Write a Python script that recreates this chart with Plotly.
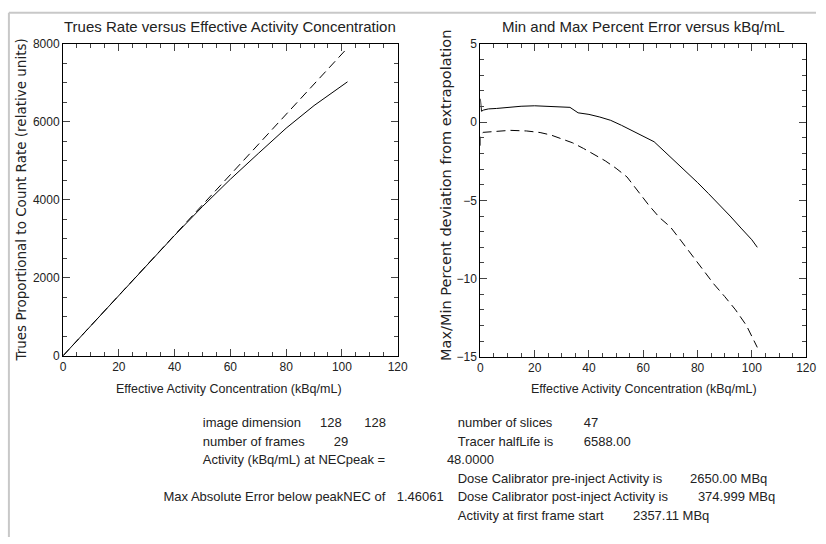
import plotly.graph_objects as go

W, H = 826, 544

# ---- data: left panel (Trues rate vs activity concentration)
act_meas = [0, 10, 20, 30, 40, 50, 60, 70, 80, 90, 102]
trues_meas = [0, 775, 1550, 2320, 3090, 3830, 4530, 5190, 5840, 6420, 7030]
act_extrap = [0, 102]
trues_extrap = [0, 7900]

# ---- data: right panel (max / min percent error)
max_x = [0, 0.4, 1.2, 3, 6, 10, 15, 20, 25, 30, 33, 36, 40, 44, 48, 52, 56, 60,
         64, 68, 72, 76, 80, 84, 88, 92, 96, 100, 102]
max_y = [1.5, 0.7, 0.78, 0.85, 0.88, 0.95, 1.02, 1.05, 1.0, 0.97, 0.95, 0.6, 0.5,
         0.33, 0.12, -0.2, -0.55, -0.85, -1.25, -1.9, -2.54, -3.17, -3.86, -4.56,
         -5.26, -6.0, -6.77, -7.52, -8.0]
min_x = [0, 0, 1, 3, 7, 11, 17, 22, 26, 30, 34, 38, 42, 46, 50, 54, 58, 62, 66,
         70, 74, 78, 82, 86, 90, 94, 98, 102]
min_y = [-1.5, -0.8, -0.65, -0.62, -0.56, -0.52, -0.56, -0.66, -0.82, -1.05,
         -1.32, -1.68, -2.05, -2.47, -2.95, -3.5, -4.4, -5.3, -6.1, -6.7, -7.6,
         -8.5, -9.4, -10.35, -11.15, -12.0, -13.0, -14.4]

# ---- info text block below the plots (text, x px, y px)
info_text = ["image dimension", "128", "128", "number of slices", "47",
             "number of frames", "29", "Tracer halfLife is", "6588.00",
             "Activity (kBq/mL) at NECpeak =", "48.0000",
             "Dose Calibrator pre-inject Activity is", "2650.00 MBq",
             "Max Absolute Error below peakNEC of", "1.46061",
             "Dose Calibrator post-inject Activity is", "374.999 MBq",
             "Activity at first frame start", "2357.11 MBq"]
info_x = [203, 322, 367, 462, 590,
          203, 336, 462, 590,
          203, 451,
          462, 698,
          163, 400,
          462, 706,
          462, 640]
info_y = [428, 428, 428, 428, 428,
          447, 447, 447, 447,
          466, 466,
          485, 485,
          504, 504,
          504, 504,
          523, 523]

NARROW = "Liberation Sans, Arial, sans-serif"
WIDE = "DejaVu Sans, Verdana, sans-serif"
TXT = "#222222"

def px(x):
    return x / W

def py(y):
    return 1 - y / H

fig = go.Figure()
line_solid = dict(color="black", width=1)
line_dash = dict(color="black", width=1, dash="9px,5px")

fig.add_trace(go.Scatter(x=act_meas, y=trues_meas, mode="lines", line=line_solid,
                         xaxis="x", yaxis="y", showlegend=False))
fig.add_trace(go.Scatter(x=act_extrap, y=trues_extrap, mode="lines", line=line_dash,
                         xaxis="x", yaxis="y", showlegend=False))
fig.add_trace(go.Scatter(x=max_x, y=max_y, mode="lines", line=line_solid,
                         xaxis="x2", yaxis="y2", showlegend=False))
fig.add_trace(go.Scatter(x=min_x, y=min_y, mode="lines", line=line_dash,
                         xaxis="x2", yaxis="y2", showlegend=False))
# info text block on a hidden full-figure overlay axis (pixel coordinates)
fig.add_trace(go.Scatter(x=info_x, y=info_y, text=info_text, mode="text",
                         textposition="middle right",
                         textfont=dict(family=NARROW, size=13, color=TXT),
                         xaxis="x3", yaxis="y3", hoverinfo="skip",
                         cliponaxis=False, showlegend=False))

def axis_common(tick0, dtick, minor_dtick):
    return dict(
        tick0=tick0, dtick=dtick,
        ticks="inside", ticklen=7,
        minor=dict(ticks="inside", ticklen=4, dtick=minor_dtick),
        showline=True, linecolor="black", linewidth=1, mirror="ticks",
        showgrid=False, zeroline=False,
        tickfont=dict(family=NARROW, size=12, color=TXT),
    )

xa = axis_common(0, 20, 5)
xa.update(domain=[px(61), px(401)], range=[0, 120], anchor="y")
ya = axis_common(0, 2000, 500)
ya.update(domain=[py(358), py(38)], range=[0, 8000], anchor="x")
xa2 = axis_common(0, 20, 5)
xa2.update(domain=[px(485), px(816)], range=[0, 120], anchor="y2")
ya2 = axis_common(-15, 5, 1)
ya2.update(domain=[py(359), py(38)], range=[-15, 5], anchor="x2")
xa3 = dict(domain=[0, 1], range=[0, W], visible=False, anchor="y3",
           automargin=False, fixedrange=True)
ya3 = dict(domain=[0, 1], range=[H, 0], visible=False, anchor="x3",
           automargin=False, fixedrange=True)

annotations = []

def ann(x, y, text, size, family=NARROW, xanchor="center", angle=0):
    annotations.append(dict(
        x=px(x), y=py(y), xref="paper", yref="paper", text=text, showarrow=False,
        xanchor=xanchor, yanchor="middle", textangle=angle,
        font=dict(family=family, size=size, color=TXT),
    ))

ann(231, 20, "Trues Rate versus Effective Activity Concentration", 15)
ann(651, 20, "Min and Max Percent Error versus kBq/mL", 15)
ann(230, 392, "Effective Activity Concentration (kBq/mL)", 12.5)
ann(651, 392, "Effective Activity Concentration (kBq/mL)", 12.5)
ann(18, 198, "Trues Proportional to Count Rate (relative units)", 13.5, family=WIDE, angle=-90)
ann(450, 193, "Max/Min Percent deviation from extrapolation", 14.5, family=WIDE, angle=-90)

shapes = [
    dict(type="line", xref="paper", yref="paper", x0=px(6), x1=1, y0=py(6), y1=py(6),
         line=dict(color="#c8c8c8", width=2)),
    dict(type="line", xref="paper", yref="paper", x0=px(6), x1=px(6), y0=0, y1=py(6),
         line=dict(color="#c8c8c8", width=2)),
]

fig.update_layout(
    width=W, height=H, margin=dict(l=0, r=0, t=0, b=0),
    paper_bgcolor="white", plot_bgcolor="rgba(0,0,0,0)",
    xaxis=xa, yaxis=ya, xaxis2=xa2, yaxis2=ya2, xaxis3=xa3, yaxis3=ya3,
    annotations=annotations, shapes=shapes, showlegend=False,
)

fig.write_html("out.html")
